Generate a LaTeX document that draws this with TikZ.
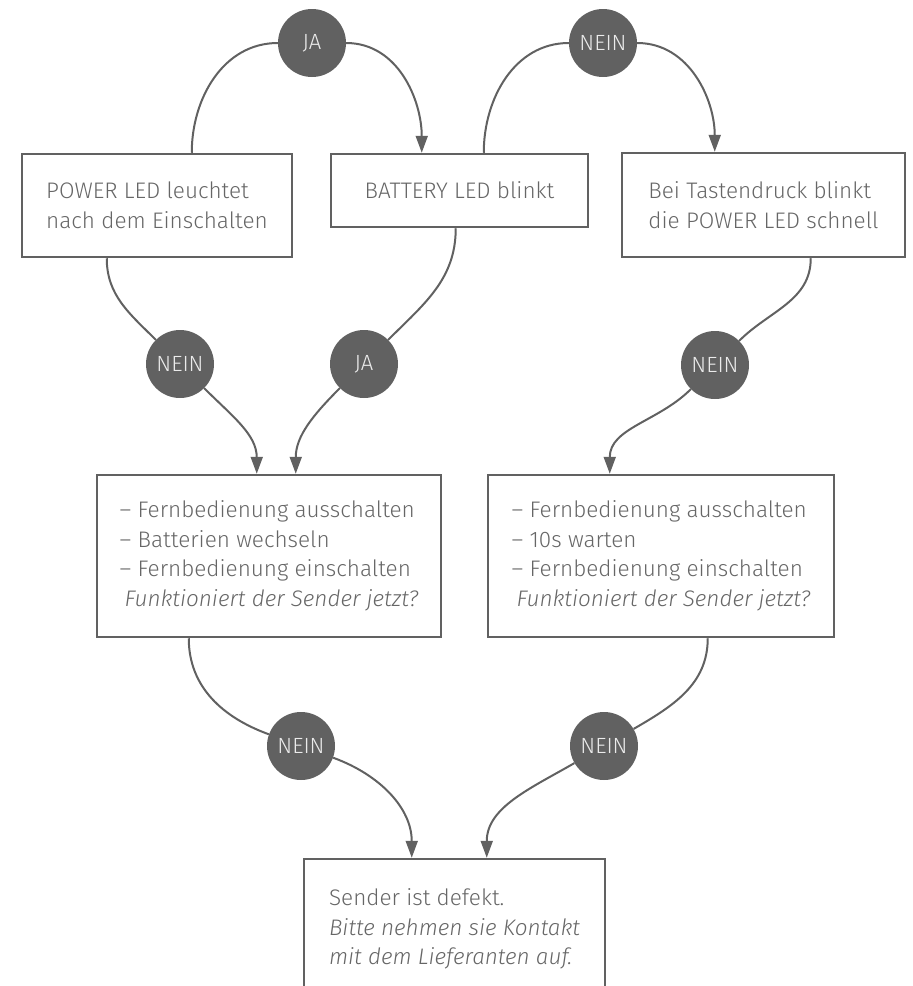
\documentclass[tikz,border=0pt]{standalone}
\usepackage{fontspec}
\setmainfont{Fira Sans}[UprightFont=* Light, ItalicFont=* Light Italic]
\usetikzlibrary{arrows.meta,positioning}
\definecolor{linegray}{HTML}{616161}
\definecolor{textgray}{HTML}{666666}

\begin{document}
\begin{tikzpicture}[x=1pt,y=1pt,
  box/.style={draw=linegray,line width=2.5pt,text=textgray,font=\fontsize{22.5}{29.5}\selectfont,align=left,inner sep=0pt},
  knot/.style={circle,fill=linegray,minimum size=68pt,inner sep=0pt,text=white!92!black,font=\fontsize{22}{26}\selectfont},
  link/.style={draw=linegray,line width=2pt},
  arr/.style={link,-{Triangle[length=17pt,width=12pt]}}]
\useasboundingbox (0,0) rectangle (913,-986);
\clip (0,0) rectangle (913,-986);
% questions
\node[box,minimum width=270pt,minimum height=103pt] (power) at (157,-205.5) {POWER LED leuchtet\\nach dem Einschalten};
\node[box,minimum width=257pt,minimum height=73pt] (battery) at (459.5,-190.5) {BATTERY LED blinkt};
\node[box,minimum width=283pt,minimum height=104pt] (taste) at (763.5,-205) {Bei Tastendruck blinkt\\die POWER LED schnell};
% actions
\node[box,minimum width=344pt,minimum height=162pt] (tausch) at (269,-556) {-- Fernbedienung ausschalten\\-- Batterien wechseln\\-- Fernbedienung einschalten\\\hspace*{5pt}\textit{Funktioniert der Sender jetzt?}};
\node[box,minimum width=346pt,minimum height=162pt] (reset) at (661,-556) {-- Fernbedienung ausschalten\\-- 10s warten\\-- Fernbedienung einschalten\\\hspace*{5pt}\textit{Funktioniert der Sender jetzt?}};
\node[box,minimum width=301pt,minimum height=140pt] (defekt) at (454.5,-929) {Sender ist defekt.\\\textit{Bitte nehmen sie Kontakt}\\\textit{mit dem Lieferanten auf.}};
% answers
\node[knot] (ja1) at (312,-43) {JA};
\node[knot] (nein1) at (603,-43) {NEIN};
\node[knot] (nein2) at (180,-364) {NEIN};
\node[knot] (ja2) at (364,-364) {JA};
\node[knot] (nein3) at (715,-365) {NEIN};
\node[knot] (nein4) at (301,-746) {NEIN};
\node[knot] (nein5) at (604,-746) {NEIN};
% top row
\draw[link] ([xshift=171pt]power.north west) to[out=90,in=180] (ja1);
\draw[arr] (ja1) to[out=0,in=90] ([xshift=92pt]battery.north west);
\draw[link] ([xshift=154pt]battery.north west) to[out=90,in=180] (nein1);
\draw[arr] (nein1) to[out=0,in=90] ([xshift=94pt]taste.north west);
% middle row
\draw[link] ([xshift=86pt]power.south west) to[out=-90,in=135] (nein2);
\draw[arr] (nein2) to[out=-45,in=90] ([xshift=161pt]tausch.north west);
\draw[link] ([xshift=126pt]battery.south west) to[out=-90,in=45] (ja2);
\draw[arr] (ja2) to[out=-135,in=90] ([xshift=200pt]tausch.north west);
\draw[link] ([xshift=190pt]taste.south west) to[out=-90,in=45] (nein3);
\draw[arr] (nein3) to[out=-135,in=90] ([xshift=123pt]reset.north west);
% bottom row
\draw[link] ([xshift=93pt]tausch.south west) to[out=-90,in=160] (nein4);
\draw[arr] (nein4) to[out=-20,in=90] ([xshift=109pt]defekt.north west);
\draw[link] ([xshift=221pt]reset.south west) to[out=-90,in=30] (nein5);
\draw[arr] (nein5) to[out=-150,in=90] ([xshift=184pt]defekt.north west);
\end{tikzpicture}
\end{document}
